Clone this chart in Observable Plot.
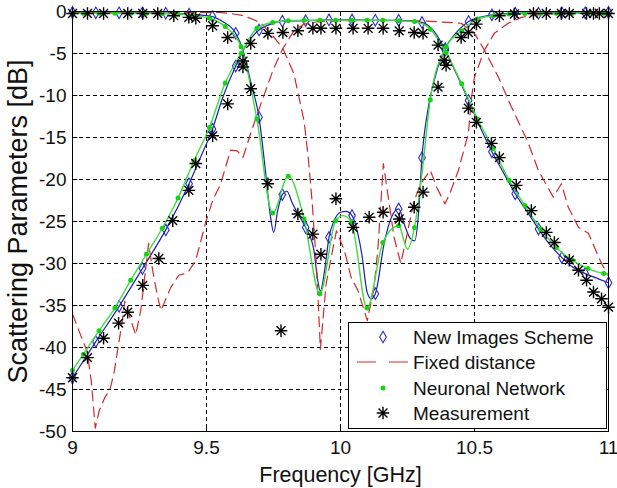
<!DOCTYPE html>
<html><head><meta charset="utf-8">
<script src="https://cdn.jsdelivr.net/npm/d3@7"></script>
<script src="https://cdn.jsdelivr.net/npm/@observablehq/plot@0.6"></script>
<style>body{margin:0;background:#fff} #chart svg{display:block}</style>
</head><body><div id="chart"></div>
<script>
// Axis ticks
const xTicks = [9, 9.5, 10, 10.5, 11];
const yTicks = [0, -5, -10, -15, -20, -25, -30, -35, -40, -45, -50];

// New Images Scheme (diamond marker positions)
const nisF   = [9.000, 9.087, 9.174, 9.261, 9.348, 9.435, 9.522, 9.609, 9.696, 9.783, 9.870, 9.957, 10.043, 10.130, 10.217, 10.304, 10.391, 10.478, 10.565, 10.652, 10.739, 10.826, 10.913, 11.000];
const nisS21 = [-43.6, -39.3, -35.1, -30.6, -26.0, -20.5, -14.0, -6.5, -2.2, -1.15, -1.1, -1.0, -1.0, -1.05, -1.05, -1.3, -4.6, -10.6, -16.7, -21.7, -25.9, -29.3, -31.2, -32.3];
const nisS11 = [-0.1, -0.15, -0.15, -0.15, -0.2, -0.3, -0.6, -2.6, -12.6, -21.8, -25.7, -26.9, -24.3, -33.6, -23.5, -17.4, -4.4, -1.2, -0.4, -0.2, -0.2, -0.15, -0.15, -0.1];
// New Images Scheme line-only points between markers
const nisS21xF = [9.48, 9.56, 9.65, 9.74, 10.35, 10.435, 10.52, 10.61, 10.70, 10.78, 10.87, 10.96];
const nisS21x  = [-17.2, -10.3, -3.9, -1.5, -2.4, -7.6, -13.7, -19.3, -24.0, -27.7, -30.5, -31.8];
const nisS11xF = [9.56, 9.636, 9.665, 9.72, 9.737, 9.751, 9.765, 9.80, 9.82, 9.845, 9.90, 9.915, 9.925, 9.94, 9.975, 10.0, 10.02, 10.065, 10.08, 10.10, 10.115, 10.163, 10.19, 10.24, 10.26, 10.277, 10.29, 10.33, 10.364, 10.435, 10.52];
const nisS11x  = [-1.2, -4.6, -8.4, -19.0, -24.0, -26.3, -23.8, -21.4, -22.8, -24.3, -28.3, -32.0, -33.3, -31.0, -25.0, -23.9, -23.8, -26.5, -29.0, -33.5, -34.2, -27.6, -24.5, -25.5, -27.0, -27.3, -24.5, -11.0, -6.6, -2.4, -0.7];

// Fixed distance
const fdS21F = [9.0, 9.03, 9.055, 9.07, 9.085, 9.1, 9.12, 9.14, 9.155, 9.17, 9.185, 9.195, 9.215, 9.236, 9.255, 9.27, 9.284, 9.3, 9.318, 9.33, 9.366, 9.396, 9.43, 9.46, 9.497, 9.523, 9.553, 9.59, 9.615, 9.636, 9.665, 9.703, 9.748, 9.785, 9.826, 9.864, 9.916, 10.0, 10.3, 10.45, 10.5, 10.537, 10.589, 10.637, 10.70, 10.738, 10.794, 10.824, 10.85, 10.888, 10.925, 10.948, 10.974, 11.0];
const fdS21  = [-36.0, -38.5, -40.5, -44.0, -49.6, -47.5, -46.0, -45.0, -43.0, -40.0, -37.0, -34.5, -36.5, -38.5, -35.5, -31.5, -27.6, -31.0, -34.0, -35.6, -32.9, -31.4, -31.1, -29.6, -25.1, -22.5, -20.5, -16.5, -16.6, -17.4, -14.5, -11.0, -7.0, -4.4, -2.3, -1.5, -1.2, -1.1, -1.1, -1.4, -2.6, -4.6, -7.8, -11.3, -15.6, -18.9, -22.1, -20.5, -23.3, -25.7, -26.4, -28.1, -30.0, -31.5];
const fdS11F = [9.0, 9.55, 9.6, 9.64, 9.70, 9.74, 9.785, 9.826, 9.864, 9.88, 9.895, 9.91, 9.925, 9.946, 9.97, 9.985, 10.015, 10.04, 10.065, 10.1, 10.125, 10.14, 10.16, 10.18, 10.2, 10.225, 10.245, 10.275, 10.3, 10.335, 10.36, 10.39, 10.41, 10.44, 10.477, 10.49, 10.5, 10.537, 10.574, 10.626, 10.675, 10.76, 11.0];
const fdS11  = [-0.1, -0.1, -0.3, -0.5, -1.3, -2.6, -4.4, -7.4, -13.0, -17.5, -23.0, -30.0, -40.2, -32.5, -28.5, -26.1, -28.5, -31.7, -33.2, -36.8, -32.9, -28.1, -18.1, -22.5, -26.9, -30.0, -27.0, -22.5, -20.5, -18.9, -21.0, -22.9, -21.5, -18.9, -14.5, -10.0, -7.8, -4.6, -2.6, -1.4, -0.7, -0.3, -0.1];

// Neuronal Network (dot marker positions)
const nnF   = [9.0, 9.041, 9.099, 9.158, 9.217, 9.276, 9.335, 9.394, 9.453, 9.511, 9.570, 9.629, 9.688, 9.747, 9.805, 9.864, 9.923, 9.982, 10.041, 10.099, 10.158, 10.217, 10.276, 10.335, 10.394, 10.452, 10.511, 10.570, 10.629, 10.688, 10.747, 10.805, 10.864, 10.923, 10.982];
const nnS21 = [-42.7, -40.8, -38.0, -35.3, -32.0, -28.9, -25.8, -22.2, -17.8, -13.8, -8.5, -5.0, -2.0, -1.3, -1.1, -1.05, -1.05, -1.05, -1.05, -1.05, -1.05, -1.1, -1.2, -2.1, -4.9, -8.6, -12.8, -16.3, -20.1, -23.1, -25.9, -28.1, -29.6, -30.6, -31.2];
const nnS11 = [-0.2, -0.2, -0.2, -0.2, -0.2, -0.2, -0.25, -0.3, -0.5, -0.8, -1.8, -4.2, -12.8, -24.0, -19.6, -24.7, -33.6, -24.9, -25.1, -35.3, -27.5, -25.5, -25.7, -10.5, -4.2, -2.3, -0.9, -0.5, -0.3, -0.25, -0.2, -0.2, -0.2, -0.2, -0.2];
const nnS21xF = [11.0];
const nnS21x  = [-31.3];
const nnS11xF = [10.01, 10.25, 10.305, 11.0];
const nnS11x  = [-24.3, -28.3, -19.0, -0.2];

// Measurement
const mS21F = [9.0, 9.056, 9.116, 9.172, 9.206, 9.262, 9.322, 9.374, 9.434, 9.46, 9.523, 9.579, 9.636, 9.665, 9.729, 9.785, 9.841, 9.897, 9.927, 9.983, 10.047, 10.103, 10.159, 10.219, 10.275, 10.308, 10.364, 10.394, 10.477, 10.507, 10.563, 10.593, 10.656, 10.712, 10.768, 10.798, 10.854, 10.888, 10.918, 10.944, 10.974, 11.0];
const mS21  = [-43.6, -41.2, -38.9, -37.1, -35.8, -32.6, -29.4, -24.9, -21.3, -18.1, -14.8, -11.0, -5.9, -3.8, -2.6, -2.5, -2.3, -2.0, -2.0, -2.0, -2.0, -2.0, -2.0, -2.3, -2.5, -2.6, -4.0, -6.4, -11.5, -13.2, -15.7, -17.4, -20.7, -23.7, -26.3, -27.5, -29.6, -30.8, -32.0, -33.4, -34.2, -35.2];
const mS11F = [9.0, 9.056, 9.116, 9.206, 9.262, 9.318, 9.378, 9.434, 9.46, 9.523, 9.579, 9.636, 9.665, 9.729, 9.778, 9.841, 9.897, 9.927, 9.983, 10.047, 10.107, 10.159, 10.219, 10.275, 10.308, 10.364, 10.387, 10.45, 10.477, 10.507, 10.593, 10.649, 10.72, 10.768, 10.824, 10.854, 10.918, 10.944, 10.966, 11.0];
const mS11  = [-0.24, -0.24, -0.24, -0.24, -0.24, -0.24, -0.5, -0.7, -0.8, -1.7, -3.1, -6.6, -9.2, -20.5, -38.0, -24.1, -26.5, -28.9, -22.3, -25.7, -24.5, -23.9, -24.7, -23.3, -21.5, -9.0, -5.8, -3.1, -2.5, -1.5, -0.5, -0.3, -0.24, -0.24, -0.24, -0.24, -0.24, -0.24, -0.24, -0.24];

// Legend entries
const legendNames = ["New Images Scheme", "Fixed distance", "Neuronal Network", "Measurement"];

const pts = (fs, vs, s) => fs.map((f, i) => ({f, v: vs[i], s}));
const merged = (fa, va, fb, vb, s) => pts(fa, va, s).concat(pts(fb, vb, s)).sort((a, b) => a.f - b.f);

const nisLines = merged(nisF, nisS21, nisS21xF, nisS21x, "S21").concat(merged(nisF, nisS11, nisS11xF, nisS11x, "S11"));
const nisMarks = pts(nisF, nisS21, "S21").concat(pts(nisF, nisS11, "S11"));
const fdLines = pts(fdS21F, fdS21, "S21").concat(pts(fdS11F, fdS11, "S11"));
const nnLines = merged(nnF, nnS21, nnS21xF, nnS21x, "S21").concat(merged(nnF, nnS11, nnS11xF, nnS11x, "S11"));
const nnMarks = pts(nnF, nnS21, "S21").concat(pts(nnF, nnS11, "S11"));
const meas = pts(mS21F, mS21, "S21").concat(pts(mS11F, mS11, "S11"));

const C = {blue: "#1e1eb0", blueMark: "#2a2ad2", red: "#d02a2a", green: "#3ede3e", greenDot: "#14d414", black: "#000"};
const FONT = "'Liberation Sans', Arial, Helvetica, sans-serif";

const chart = Plot.plot({
  width: 617, height: 488,
  marginLeft: 72, marginRight: 9, marginTop: 11, marginBottom: 57,
  style: {fontFamily: FONT, fontSize: "19px", color: "#111", background: "#fff"},
  x: {domain: [9, 11]},
  y: {domain: [-50, 0]},
  marks: [
    Plot.gridX({ticks: xTicks, stroke: "#000", strokeOpacity: 1, strokeDasharray: "4,3"}),
    Plot.gridY({ticks: yTicks, stroke: "#000", strokeOpacity: 1, strokeDasharray: "4,3"}),
    Plot.ruleX(xTicks, {x: d => d, y1: 0, y2: -0.6, stroke: "#000"}),
    Plot.ruleX(xTicks, {x: d => d, y1: -50, y2: -49.4, stroke: "#000"}),
    Plot.ruleY(yTicks, {y: d => d, x1: 9, x2: 9.02, stroke: "#000"}),
    Plot.ruleY(yTicks, {y: d => d, x1: 10.98, x2: 11, stroke: "#000"}),
    Plot.axisX({ticks: xTicks, tickSize: 0, tickPadding: 9, tickFormat: d => String(d), label: null, fontSize: 19}),
    Plot.axisY({ticks: yTicks, tickSize: 0, tickPadding: 6, tickFormat: d => String(d), label: null, fontSize: 19}),
    Plot.line(nisLines, {x: "f", y: "v", z: "s", stroke: C.blue, strokeWidth: 1.2, curve: "monotone-x", clip: true}),
    Plot.dot(nisMarks, {x: "f", y: "v", symbol: "diamond", r: 3.5, stroke: C.blueMark, fill: "none", strokeWidth: 1.1}),
    Plot.line(fdLines, {x: "f", y: "v", z: "s", stroke: C.red, strokeWidth: 1.2, strokeDasharray: "10,6", clip: true}),
    Plot.line(nnLines, {x: "f", y: "v", z: "s", stroke: C.green, strokeWidth: 1.4, curve: "monotone-x", clip: true}),
    Plot.dot(nnMarks, {x: "f", y: "v", r: 2.5, fill: C.greenDot}),
    Plot.dot(meas, {x: "f", y: "v", symbol: "plus", r: 4.1, stroke: C.black, strokeWidth: 1.4}),
    Plot.dot(meas, {x: "f", y: "v", symbol: "times", r: 4.1, stroke: C.black, strokeWidth: 1.4}),
    Plot.dot(meas, {x: "f", y: "v", r: 1.7, fill: C.black}),
    Plot.frame({stroke: "#000", strokeWidth: 1}),
    Plot.text(["Frequency [GHz]"], {frameAnchor: "bottom", textAnchor: "middle", lineAnchor: "bottom", dy: 50, fontSize: 21.5, fill: "#111"}),
    Plot.text(["Scattering Parameters [dB]"], {frameAnchor: "left", textAnchor: "middle", lineAnchor: "middle", dx: -54, rotate: -90, fontSize: 27, fill: "#111"})
  ]
});

document.getElementById("chart").appendChild(chart);

// Legend box (inside the plot, lower right)
const svg = d3.select(chart);
const lg = svg.append("g").attr("font-family", FONT).attr("font-size", 19).attr("fill", "#111").attr("text-anchor", "start");
lg.append("rect").attr("x", 348.5).attr("y", 322.5).attr("width", 258).attr("height", 106)
  .attr("fill", "#fff").attr("stroke", "#000").attr("stroke-width", 1);
const rowY = [337, 362, 388, 413];
const mx = 383;
lg.append("path").attr("transform", `translate(${mx},${rowY[0]})`)
  .attr("d", d3.symbol(d3.symbolDiamond, Math.PI * 3.5 * 3.5)())
  .attr("fill", "none").attr("stroke", C.blueMark).attr("stroke-width", 1.1);
lg.append("line").attr("x1", 357).attr("x2", 409).attr("y1", rowY[1]).attr("y2", rowY[1])
  .attr("stroke", C.red).attr("stroke-width", 1.2).attr("stroke-dasharray", "19,13");
lg.append("circle").attr("cx", mx).attr("cy", rowY[2]).attr("r", 2.5).attr("fill", C.greenDot);
[d3.symbolPlus, d3.symbolTimes].forEach(sym => {
  lg.append("path").attr("transform", `translate(${mx},${rowY[3]})`)
    .attr("d", d3.symbol(sym, Math.PI * 4.1 * 4.1)())
    .attr("fill", "none").attr("stroke", "#000").attr("stroke-width", 1.4);
});
lg.append("circle").attr("cx", mx).attr("cy", rowY[3]).attr("r", 1.7).attr("fill", "#000");
legendNames.forEach((name, i) => {
  lg.append("text").attr("x", 413).attr("y", rowY[i]).attr("dy", "0.35em").attr("text-anchor", "start").text(name);
});
</script>
</body></html>
